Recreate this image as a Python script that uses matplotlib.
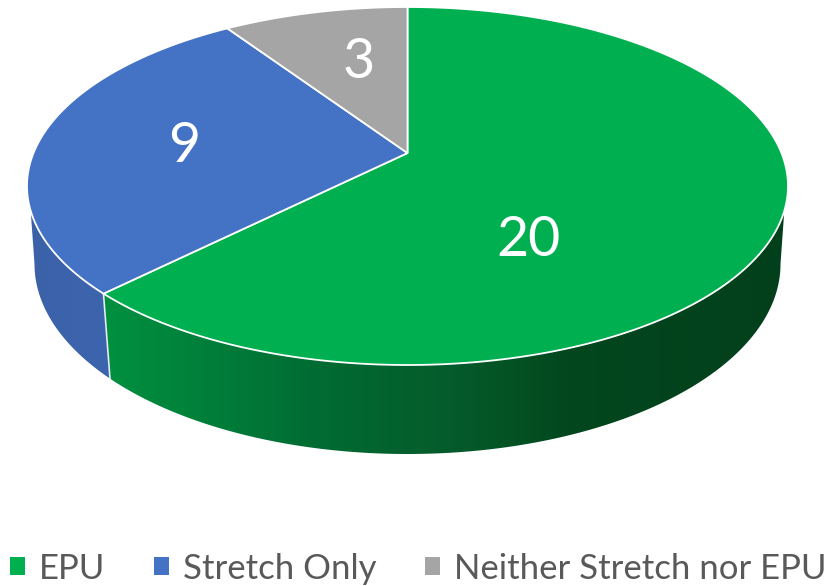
import numpy as np
import matplotlib
matplotlib.use("Agg")
import matplotlib.pyplot as plt
from matplotlib.colors import LinearSegmentedColormap
from matplotlib.patches import Polygon
from matplotlib.path import Path
from matplotlib.transforms import Transform, Affine2D

categories = ["EPU", "Stretch Only", "Neither Stretch nor EPU"]
values = [20, 9, 3]
colors = ["#00B050", "#4472C4", "#A5A5A5"]

plt.rcParams["font.family"] = ["Lato", "DejaVu Sans"]

# geometry (pixels)
CX, CY, RX, RY = 407.5, 186.0, 380.5, 179.0
BCY, BRX, BRY = 264.0, 373.0, 190.0
K = 0.184


class Persp(Transform):
    input_dims = output_dims = 2
    is_affine = False
    has_inverse = False

    def transform_non_affine(self, xy):
        xy = np.asarray(xy, float)
        x, y = xy[:, 0], xy[:, 1]
        d = 1 + K * y
        return np.column_stack((x * np.sqrt(1 - K ** 2) / d, (y + K) / d))

    def transform_path_non_affine(self, path):
        # flatten finely (paths are in unit coordinates) before the projection
        SCALE = 2000.0
        fine = path.transformed(Affine2D().scale(SCALE)).to_polygons(closed_only=False)
        verts, codes = [], []
        for p in fine:
            verts.append(self.transform_non_affine(p / SCALE))
            codes.append([Path.MOVETO] + [Path.LINETO] * (len(p) - 1))
        return Path(np.vstack(verts), np.concatenate(codes))


fig = plt.figure(figsize=(8.29, 5.86), dpi=100)
ax = fig.add_axes([0, 0, 1, 1])

wedges, _ = ax.pie(values, colors=colors, startangle=90, counterclock=False,
                   wedgeprops=dict(edgecolor="white", linewidth=1.3, zorder=5))
ax.set_aspect("auto")
ax.set_xlim(0, 829)
ax.set_ylim(586, 0)
ax.axis("off")

to_px = Affine2D().scale(RX, -RY).translate(CX, CY)
persp = Persp()
for w in wedges:
    w.set_transform(persp + to_px + ax.transData)

# side wall, derived from the slice angles
fracs = np.cumsum(values) / np.sum(values)
boundary = 90 - 360 * fracs[0]
P = persp.transform_non_affine(np.array([[np.cos(np.radians(boundary)), np.sin(np.radians(boundary))]]))[0]
start = np.arctan2(P[1], P[0])  # parameter on the top ellipse


def top(t):
    return np.column_stack((CX + RX * np.cos(t), CY - RY * np.sin(t)))


def bottom(t):
    return np.column_stack((CX + BRX * np.cos(t), BCY - BRY * np.sin(t)))


split_x = CX - 297.5
b_split = np.arctan2(-np.sqrt(1 - ((split_x - CX) / BRX) ** 2), (split_x - CX) / BRX)

t_sil = np.radians(-8.0)
tg = np.linspace(start, t_sil, 200)
bg = np.linspace(b_split, 0, 200)
green_poly = np.vstack((top(tg), bottom(bg)[::-1]))

t_sil_l = np.radians(-172.0)
tb = np.linspace(t_sil_l, start, 60)
bb = np.linspace(-np.pi, b_split, 60)
blue_poly = np.vstack((top(tb), bottom(bb)[::-1]))

gmap = LinearSegmentedColormap.from_list("g", [
    (0.00, "#009040"), (0.15, "#007F3A"), (0.32, "#006B32"), (0.50, "#055C2C"),
    (0.63, "#034F22"), (0.68, "#02471E"), (1.00, "#03401C")])
bmap = LinearSegmentedColormap.from_list("b", ["#3B62A9", "#3D65AE"])
grad = np.linspace(0, 1, 400)[None, :]


def wall(poly, cmap):
    x0, x1 = poly[:, 0].min(), poly[:, 0].max()
    y0, y1 = poly[:, 1].min(), poly[:, 1].max()
    im = ax.imshow(grad, cmap=cmap, extent=(x0, x1, y1, y0), aspect="auto", zorder=2, interpolation="bilinear")
    pat = Polygon(poly, closed=True, transform=ax.transData, fc="none", ec="none")
    ax.add_patch(pat)
    im.set_clip_path(pat)


wall(green_poly, gmap)
wall(blue_poly, bmap)
ax.set_xlim(0, 829)
ax.set_ylim(586, 0)
ax.plot([green_poly[0, 0], green_poly[-1, 0]], [green_poly[0, 1], green_poly[-1, 1]],
        color="white", lw=1.2, zorder=3, alpha=0.85)

# value labels
label_px = [(529, 240), (184, 146), (359, 62)]
for v, (x, y) in zip(values, label_px):
    ax.text(x, y, str(v), color="white", fontsize=40, ha="center", va="center", zorder=6)

leg = ax.legend(wedges, categories, loc="lower left", bbox_to_anchor=(-0.017, -0.039), ncol=3, frameon=False,
                fontsize=25, labelcolor="#595959", handlelength=0.43, handleheight=0.43,
                handletextpad=0.4, columnspacing=1.4, borderpad=0.2)
for h in leg.legend_handles:
    h.set_edgecolor("none")

fig.savefig("out.png", dpi=100)
